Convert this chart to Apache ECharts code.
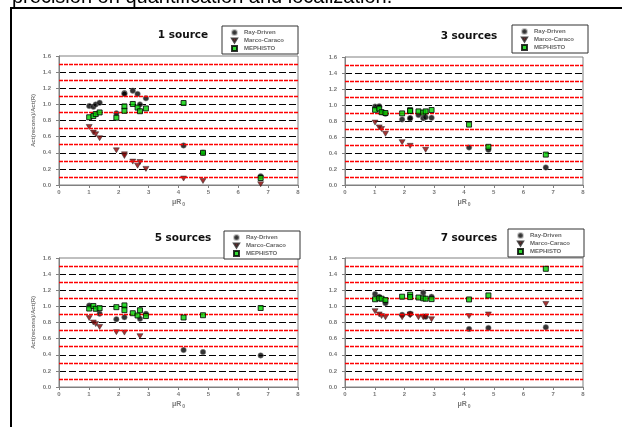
<!DOCTYPE html>
<html><head><meta charset="utf-8">
<script src="https://cdn.jsdelivr.net/npm/echarts@6/dist/echarts.min.js"></script>
<style>html,body{margin:0;padding:0;background:#fff;overflow:hidden}#c{width:622px;height:427px}</style>
</head><body><div id="c"></div>
<script>
// Shared x positions (μR0)
const xValues = [1.01, 1.15, 1.23, 1.36, 1.92, 2.19, 2.19, 2.47, 2.63, 2.71, 2.91, 4.17, 4.82, 6.75];

// 1 source
const rayDriven1   = [0.98, 0.97, 1.00, 1.02, 0.89, 1.14, 1.13, 1.17, 1.13, 1.00, 1.075, 0.49, 0.40, 0.11];
const marcoCaraco1 = [0.72, 0.65, 0.63, 0.58, 0.43, 0.38, 0.36, 0.29, 0.24, 0.285, 0.20, 0.08, 0.05, 0.01];
const mephisto1    = [0.84, 0.855, 0.88, 0.90, 0.835, 0.975, 0.92, 1.005, 0.96, 0.915, 0.95, 1.017, 0.40, 0.087];
// 3 sources
const rayDriven3   = [0.98, 0.985, 0.91, 0.89, 0.82, 0.835, 0.835, 0.875, 0.834, 0.848, 0.84, 0.47, 0.44, 0.22];
const marcoCaraco3 = [0.78, 0.72, 0.70, 0.64, 0.535, 0.49, null, null, null, 0.44, null, null, null, null];
const mephisto3    = [0.94, 0.955, 0.91, 0.90, 0.895, 0.935, 0.925, 0.92, 0.905, 0.92, 0.937, 0.755, 0.477, 0.38];
// 5 sources
const rayDriven5   = [1.01, null, null, 0.91, 0.84, 0.866, null, null, null, 0.845, 0.907, 0.458, 0.433, 0.392];
const marcoCaraco5 = [0.855, 0.80, 0.78, 0.745, 0.68, 0.675, null, null, null, 0.63, null, null, null, null];
const mephisto5    = [0.973, 1.005, 0.97, 0.978, 0.99, 1.012, 0.953, 0.915, 0.887, 0.952, 0.88, 0.862, 0.89, 0.98];
// 7 sources
const rayDriven7   = [1.152, 1.12, null, 1.04, 0.895, 0.905, 0.91, null, 1.17, 0.87, 1.12, 0.72, 0.733, 0.74];
const marcoCaraco7 = [0.94, 0.90, 0.88, 0.865, 0.865, 0.89, 0.90, 0.865, 0.865, 0.875, 0.84, 0.88, 0.90, 1.03];
const mephisto7    = [1.088, 1.10, 1.095, 1.078, 1.12, 1.145, 1.115, 1.11, 1.10, 1.095, 1.09, 1.086, 1.136, 1.466];

const panelTitles = ['1 source', '3 sources', '5 sources', '7 sources'];
const seriesNames = ['Ray-Driven', 'Marco-Caraco', 'MEPHISTO'];
const redLevels = [0.1, 0.3, 0.5, 0.7, 0.9, 1.1, 1.3, 1.5];
const headingText = 'precision on quantification and localization.';
const yAxisTitle = 'Act(recons)/Act(R)';

const panelData = [
  [rayDriven1, marcoCaraco1, mephisto1],
  [rayDriven3, marcoCaraco3, mephisto3],
  [rayDriven5, marcoCaraco5, mephisto5],
  [rayDriven7, marcoCaraco7, mephisto7]
];

function pts(ys) {
  const out = [];
  ys.forEach((y, i) => { if (y != null) out.push([xValues[i], y]); });
  return out;
}

const layout = [
  {left: 59, top: 56, width: 239, height: 129, tx: 178, ty: 25, lx: 222, ly: 26, yName: true},
  {left: 345, top: 57, width: 238, height: 128, tx: 464, ty: 26, lx: 512, ly: 25, yName: false},
  {left: 59, top: 258, width: 239, height: 129, tx: 178, ty: 228, lx: 224, ly: 231, yName: true},
  {left: 345, top: 258, width: 238, height: 129, tx: 464, ty: 228, lx: 508, ly: 229, yName: false}
];

const symbolDefs = [
  {symbol: 'circle', size: 5.5, style: {color: '#000', borderColor: 'rgba(140,140,140,0.6)', borderWidth: 1}},
  {symbol: 'path://M0,0L10,0L5,8Z', size: [6, 5], style: {color: '#8b0000', borderColor: '#222', borderWidth: 0.6}},
  {symbol: 'rect', size: 5, style: {color: '#00d000', borderColor: '#000', borderWidth: 1}}
];

const labelStyle = {fontSize: 6, color: '#777', fontWeight: 'bold', fontFamily: 'Arial'};

const option = {
  animation: false,
  backgroundColor: '#fff',
  grid: [], xAxis: [], yAxis: [], series: [], title: [], legend: [],
  graphic: [
    {type: 'text', left: 12, top: -13, style: {text: headingText, font: '20px Arial', fill: '#000'}},
    {type: 'rect', shape: {x: 11, y: 8, width: 700, height: 500}, style: {fill: 'none', stroke: '#000', lineWidth: 2}, silent: true}
  ]
};

layout.forEach((L, i) => {
  option.grid.push({left: L.left, top: L.top, width: L.width, height: L.height, show: true, borderColor: '#808080', borderWidth: 1, backgroundColor: 'transparent'});
  option.xAxis.push({
    type: 'value', gridIndex: i, min: 0, max: 8, interval: 1,
    axisLine: {show: true, lineStyle: {color: '#808080', width: 1}},
    axisTick: {show: true, length: 3, lineStyle: {color: '#808080'}},
    axisLabel: Object.assign({margin: 4}, labelStyle),
    splitLine: {show: false},
    name: 'μR{s|0}', nameLocation: 'middle', nameGap: 13,
    nameTextStyle: {fontSize: 7, color: '#777', fontWeight: 'bold', fontFamily: 'Arial', rich: {s: {fontSize: 5, color: '#777', fontWeight: 'bold', verticalAlign: 'bottom', padding: [4, 0, 0, 1]}}}
  });
  option.yAxis.push({
    type: 'value', gridIndex: i, min: 0, max: 1.6, interval: 0.2,
    axisLine: {show: true, lineStyle: {color: '#808080', width: 1}},
    axisTick: {show: true, length: 3, lineStyle: {color: '#808080'}},
    axisLabel: Object.assign({margin: 8, formatter: v => v.toFixed(1)}, labelStyle),
    splitLine: {show: true, showMinLine: false, showMaxLine: false, lineStyle: {color: '#000', type: [7, 3], width: 1}},
    name: L.yName ? yAxisTitle : '', nameLocation: 'middle', nameGap: 23,
    nameTextStyle: {fontSize: 6, color: '#777', fontWeight: 'bold', fontFamily: 'Arial'}
  });
  option.title.push({
    text: panelTitles[i], left: L.tx, top: L.ty, textAlign: 'center',
    textStyle: {fontSize: 10.5, fontWeight: 'bold', fontFamily: 'DejaVu Sans', color: '#111'}
  });
  option.legend.push({
    left: L.lx, top: L.ly, orient: 'vertical', data: seriesNames, selectedMode: false,
    itemWidth: 5, itemHeight: 5, itemGap: 1.5, padding: [3, 14, 2, 9],
    backgroundColor: '#fff', borderColor: '#333', borderWidth: 1,
    textStyle: {fontSize: 6, color: '#666', fontWeight: 'bold', fontFamily: 'Arial', padding: [0, 0, 0, 2]}
  });
  option.series.push({
    type: 'scatter', name: 'ref' + i, xAxisIndex: i, yAxisIndex: i, data: [], z: 1, silent: true,
    markLine: {silent: true, symbol: ['none', 'none'], label: {show: false}, animation: false,
      lineStyle: {color: '#ff0000', type: [4, 1], width: 1.3},
      data: redLevels.map(v => ({yAxis: v}))}
  });
  panelData[i].forEach((ys, k) => {
    option.series.push({
      type: 'scatter', name: seriesNames[k], xAxisIndex: i, yAxisIndex: i, z: 3 + k,
      symbol: symbolDefs[k].symbol, symbolSize: symbolDefs[k].size,
      itemStyle: symbolDefs[k].style,
      data: pts(ys)
    });
  });
});

const chart = echarts.init(document.getElementById('c'), null, {renderer: 'canvas'});
chart.setOption(option);
</script>
</body></html>
